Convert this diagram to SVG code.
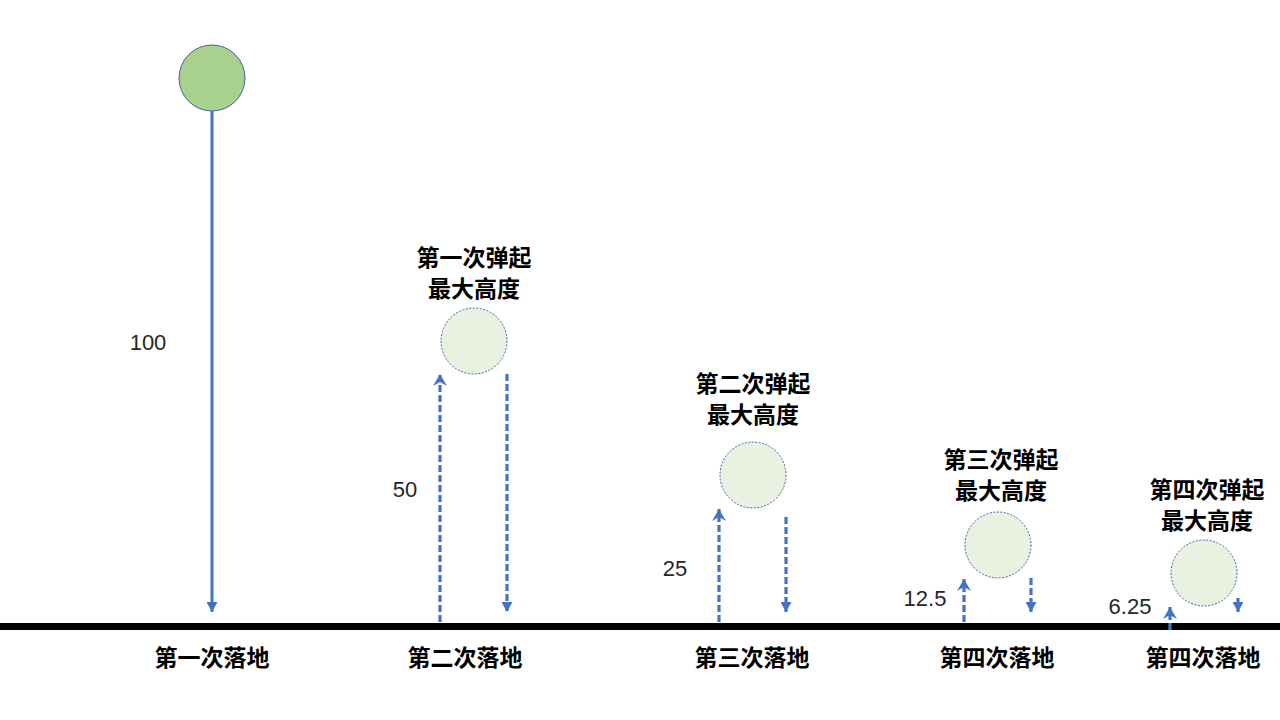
<svg xmlns="http://www.w3.org/2000/svg" width="1280" height="720" viewBox="0 0 1280 720">
<style>
.cn{font-family:"Noto Sans CJK SC","Noto Sans",sans-serif;font-size:23px;font-weight:bold;fill:#000;text-anchor:middle}
.num{font-family:"Liberation Sans",Arial,sans-serif;font-size:22px;fill:#262626;text-anchor:middle}
.ball2{fill:#E9F2E1;stroke:#41609C;stroke-width:1;stroke-dasharray:2,1.5}
.dash{stroke:#4472C4;stroke-width:3.2;stroke-dasharray:7,3;fill:none}
</style>
<defs>
<marker id="down" viewBox="0 0 11 10" refX="5.5" refY="10" markerWidth="11" markerHeight="10" markerUnits="userSpaceOnUse" orient="0">
<path d="M0,0 L11,0 L5.5,10 Z" fill="#4472C4"/>
</marker>
<marker id="up" viewBox="0 0 14 13" refX="7" refY="0" markerWidth="14" markerHeight="13" markerUnits="userSpaceOnUse" orient="0">
<path d="M7,0 L14,12 L7,8 L0,12 Z" fill="#4472C4"/>
</marker>
</defs>
<rect x="0" y="623" width="1280" height="7" fill="#000"/>
<g id="connectors">
<line x1="212" y1="111" x2="212" y2="612" stroke="#4472C4" stroke-width="3" marker-end="url(#down)"/>
<line class="dash" x1="440" y1="622" x2="440" y2="374" marker-end="url(#up)"/>
<line class="dash" x1="507" y1="374" x2="507" y2="612" marker-end="url(#down)"/>
<line class="dash" x1="719" y1="622" x2="719" y2="509" marker-end="url(#up)"/>
<line class="dash" x1="786" y1="517" x2="786" y2="612" marker-end="url(#down)"/>
<line class="dash" x1="964" y1="622" x2="964" y2="579" marker-end="url(#up)"/>
<line class="dash" x1="1031" y1="578" x2="1031" y2="612" marker-end="url(#down)"/>
<line class="dash" x1="1170" y1="630" x2="1170" y2="607" marker-end="url(#up)"/>
<line class="dash" x1="1238" y1="598" x2="1238" y2="612" marker-end="url(#down)"/>
</g>
<g id="ball1"><circle cx="212" cy="78" r="33" fill="#A9D18E" stroke="#41609C" stroke-width="1"/></g>
<g id="ball2"><circle class="ball2" cx="474" cy="341" r="33"/><text class="cn" x="474" y="266">第一次弹起</text><text class="cn" x="474" y="297">最大高度</text></g>
<g id="ball3"><circle class="ball2" cx="753" cy="475" r="33"/><text class="cn" x="753" y="392">第二次弹起</text><text class="cn" x="753" y="423">最大高度</text></g>
<g id="ball4"><circle class="ball2" cx="998" cy="545" r="33"/><text class="cn" x="1001" y="468">第三次弹起</text><text class="cn" x="1001" y="499">最大高度</text></g>
<g id="ball5"><circle class="ball2" cx="1204" cy="573" r="33"/><text class="cn" x="1207" y="498">第四次弹起</text><text class="cn" x="1207" y="529">最大高度</text></g>
<g id="values">
<text class="num" x="148" y="350">100</text>
<text class="num" x="405" y="497">50</text>
<text class="num" x="675" y="576">25</text>
<text class="num" x="925" y="606">12.5</text>
<text class="num" x="1130" y="614">6.25</text>
</g>
<g id="ground-labels">
<text class="cn" x="212" y="666">第一次落地</text>
<text class="cn" x="465" y="666">第二次落地</text>
<text class="cn" x="752" y="666">第三次落地</text>
<text class="cn" x="997" y="666">第四次落地</text>
<text class="cn" x="1203" y="666">第四次落地</text>
</g>
</svg>
